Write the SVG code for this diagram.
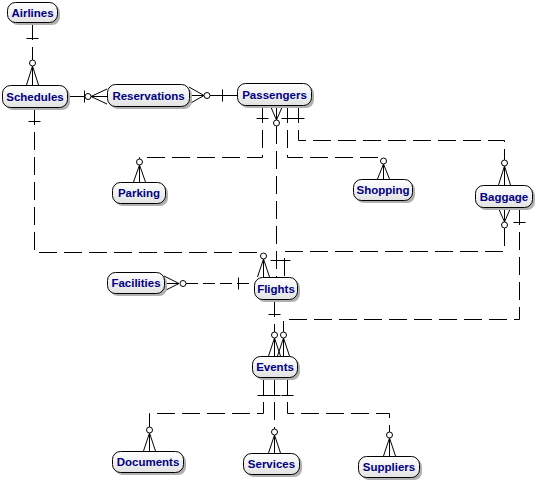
<svg xmlns="http://www.w3.org/2000/svg" width="538" height="483" viewBox="0 0 538 483">
<style>
.box{fill:url(#g);stroke:#000;stroke-width:1}
.sh{fill:#b0b0b0}
.t{font-family:"Liberation Sans",Arial,sans-serif;font-weight:bold;font-size:11.5px;fill:#000080;text-anchor:middle}
.c path{fill:none;stroke:#000;stroke-width:1}
.c .d{stroke-dasharray:18,7}
.c circle{fill:#fff;stroke:#000;stroke-width:1}
</style>
<defs>
<linearGradient id="g" x1="0" y1="0" x2="0" y2="1">
<stop offset="0" stop-color="#ffffff"/>
<stop offset="1" stop-color="#e2e2e2"/>
</linearGradient>
</defs>
<rect width="538" height="483" fill="#fff"/>
<g class="c" id="connectors">
<!-- Airlines - Schedules -->
<path class="d" d="M32.5,22 V60"/>
<path d="M26.5,38.5 H38.5 M32.5,66 L26.5,85 M32.5,66 V85 M32.5,66 L38.5,85"/>
<circle cx="32.5" cy="63" r="3"/>
<!-- Schedules - Reservations -->
<path d="M67,96.5 H85 M84.5,90.5 V102.5 M91,96.5 L107,89 M91,96.5 H107 M91,96.5 L107,104"/>
<circle cx="88" cy="96.5" r="3"/>
<!-- Reservations - Passengers -->
<path d="M189,87 L204,95.5 M189,95.5 H204 M189,104 L204,95.5 M210,95.5 H237 M222.5,89.5 V101.5"/>
<circle cx="207" cy="95.5" r="3"/>
<!-- Passengers - Parking -->
<path class="d" d="M262.5,105 V157.5 H139.5 V159"/>
<path d="M256.5,118.5 H268.5 M139.5,165 L133.5,182 M139.5,165 V182 M139.5,165 L145.5,182"/>
<circle cx="139.5" cy="162" r="3"/>
<!-- Passengers - Flights -->
<path d="M270,105 L276.5,120 M276.5,105 V120 M283,105 L276.5,120 M270.5,260.5 H282.5"/>
<path class="d" d="M276.5,126 V277"/>
<circle cx="276.5" cy="123" r="3"/>
<!-- Passengers - Shopping -->
<path class="d" d="M287.5,105 V157.5 H383.5 V158"/>
<path d="M281.5,118.5 H293.5 M383.5,164 L377.5,179 M383.5,164 V179 M383.5,164 L389.5,179"/>
<circle cx="383.5" cy="161" r="3"/>
<!-- Passengers - Baggage -->
<path class="d" d="M298.5,105 V140.5 H504.5 V160"/>
<path d="M292.5,118.5 H304.5 M504.5,166 L498.5,185 M504.5,166 V185 M504.5,166 L510.5,185"/>
<circle cx="504.5" cy="163" r="3"/>
<!-- Schedules - Flights -->
<path class="d" d="M34.5,107 V252.5 H263.5 V253"/>
<path d="M28.5,121.5 H40.5 M263.5,259 L257.5,277 M263.5,259 V277 M263.5,259 L269.5,277"/>
<circle cx="263.5" cy="256" r="3"/>
<!-- Baggage - Flights -->
<path d="M498,207 L504.5,222 M504.5,207 V222 M511,207 L504.5,222 M278.5,260.5 H290.5"/>
<path class="d" d="M504.5,228 V251.5 H284.5 V277"/>
<circle cx="504.5" cy="225" r="3"/>
<!-- Baggage - Events -->
<path class="d" d="M519.5,207 V319.5 H283.5 V332"/>
<path d="M513.5,222.5 H525.5 M283.5,338 L277.5,356 M283.5,338 V356 M283.5,338 L289.5,356"/>
<circle cx="283.5" cy="335" r="3"/>
<!-- Flights - Events -->
<path class="d" d="M274.5,299 V332"/>
<path d="M268.5,314.5 H280.5 M274.5,338 L268.5,356 M274.5,338 V356 M274.5,338 L280.5,356"/>
<circle cx="274.5" cy="335" r="3"/>
<!-- Facilities - Flights -->
<path d="M164,276 L179,283.5 M164,283.5 H179 M164,291 L179,283.5 M238.5,277.5 V289.5"/>
<path class="d" d="M186,283.5 H254" style="stroke-dasharray:12,5"/>
<circle cx="183" cy="283.5" r="3"/>
<!-- Events - Documents -->
<path class="d" d="M263.5,377 V413.5 H149.5 V427"/>
<path d="M257.5,395.5 H269.5 M149.5,433 L143.5,451 M149.5,433 V451 M149.5,433 L155.5,451"/>
<circle cx="149.5" cy="430" r="3"/>
<!-- Events - Services -->
<path class="d" d="M274.5,377 V429"/>
<path d="M268.5,395.5 H280.5 M274.5,435 L268.5,453 M274.5,435 V453 M274.5,435 L280.5,453"/>
<circle cx="274.5" cy="432" r="3"/>
<!-- Events - Suppliers -->
<path class="d" d="M287.5,377 V413.5 H389.5 V432"/>
<path d="M281.5,395.5 H293.5 M389.5,438 L383.5,456 M389.5,438 V456 M389.5,438 L395.5,456"/>
<circle cx="389.5" cy="435" r="3"/>
</g>
<g id="Airlines"><rect class="sh" x="10" y="5" width="50" height="20" rx="8"/><rect class="box" x="7.5" y="2.5" width="50" height="20" rx="8"/><text class="t" x="32.5" y="16.5">Airlines</text></g>
<g id="Schedules"><rect class="sh" x="5" y="88" width="65" height="22" rx="8"/><rect class="box" x="2.5" y="85.5" width="65" height="22" rx="8"/><text class="t" x="35" y="100.5">Schedules</text></g>
<g id="Reservations"><rect class="sh" x="110" y="87" width="82" height="22" rx="8"/><rect class="box" x="107.5" y="84.5" width="82" height="22" rx="8"/><text class="t" x="148.5" y="99.5">Reservations</text></g>
<g id="Passengers"><rect class="sh" x="240" y="86" width="74" height="22" rx="8"/><rect class="box" x="237.5" y="83.5" width="74" height="22" rx="8"/><text class="t" x="274.5" y="98.5">Passengers</text></g>
<g id="Parking"><rect class="sh" x="115" y="185" width="53" height="21" rx="8"/><rect class="box" x="112.5" y="182.5" width="53" height="21" rx="8"/><text class="t" x="139" y="197">Parking</text></g>
<g id="Shopping"><rect class="sh" x="356" y="182" width="59" height="21" rx="8"/><rect class="box" x="353.5" y="179.5" width="59" height="21" rx="8"/><text class="t" x="383" y="194">Shopping</text></g>
<g id="Baggage"><rect class="sh" x="478" y="188" width="57" height="22" rx="8"/><rect class="box" x="475.5" y="185.5" width="57" height="22" rx="8"/><text class="t" x="504" y="200.5">Baggage</text></g>
<g id="Facilities"><rect class="sh" x="110" y="275" width="57" height="21" rx="8"/><rect class="box" x="107.5" y="272.5" width="57" height="21" rx="8"/><text class="t" x="136" y="287">Facilities</text></g>
<g id="Flights"><rect class="sh" x="257" y="280" width="43" height="22" rx="8"/><rect class="box" x="254.5" y="277.5" width="43" height="22" rx="8"/><text class="t" x="276" y="292.5">Flights</text></g>
<g id="Events"><rect class="sh" x="255" y="359" width="45" height="21" rx="8"/><rect class="box" x="252.5" y="356.5" width="45" height="21" rx="8"/><text class="t" x="275" y="371">Events</text></g>
<g id="Documents"><rect class="sh" x="115" y="454" width="71" height="21" rx="8"/><rect class="box" x="112.5" y="451.5" width="71" height="21" rx="8"/><text class="t" x="148" y="466">Documents</text></g>
<g id="Services"><rect class="sh" x="246" y="456" width="56" height="21" rx="8"/><rect class="box" x="243.5" y="453.5" width="56" height="21" rx="8"/><text class="t" x="271.5" y="468">Services</text></g>
<g id="Suppliers"><rect class="sh" x="361" y="459" width="61" height="21" rx="8"/><rect class="box" x="358.5" y="456.5" width="61" height="21" rx="8"/><text class="t" x="389" y="471">Suppliers</text></g>
</svg>
